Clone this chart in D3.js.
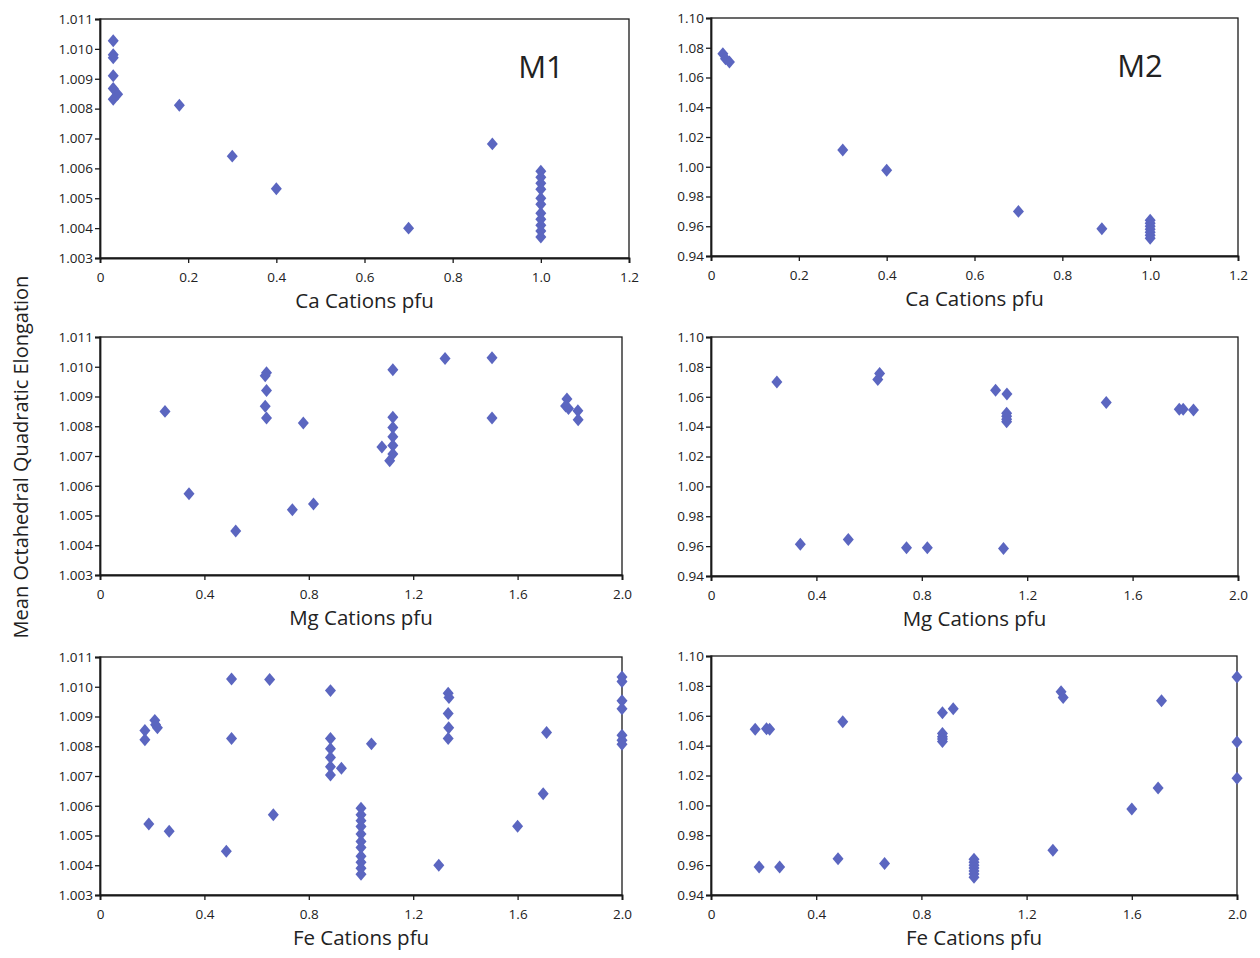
<!DOCTYPE html>
<html>
<head>
<meta charset="utf-8">
<script src="https://cdn.jsdelivr.net/npm/d3@7"></script>
<style>
  body { margin: 0; background: #fff; }
  svg text { font-family: "Open Sans", "Noto Sans", sans-serif; fill: #222; }
</style>
</head>
<body>
<div class="chart-container"></div>
<script>
// x values and elongation values, one pair of arrays per panel
const caM1X = [0.03, 0.03, 0.03, 0.03, 0.03, 0.04, 0.03, 0.18, 0.30, 0.40, 0.70, 0.89,
               1.0, 1.0, 1.0, 1.0, 1.0, 1.0, 1.0, 1.0, 1.0, 1.0, 1.0];
const caM1Y = [1.01027, 1.0098, 1.0097, 1.0091, 1.00867, 1.00848, 1.00831, 1.00811, 1.00641, 1.00532, 1.0040, 1.00682,
               1.0059, 1.0057, 1.0055, 1.0053, 1.0050, 1.0048, 1.0045, 1.0043, 1.0041, 1.0039, 1.0037];

const caM2X = [0.027, 0.033, 0.042, 0.30, 0.40, 0.70, 0.89, 1.0, 1.0, 1.0, 1.0, 1.0, 1.0, 1.0];
const caM2Y = [1.0759, 1.0726, 1.0704, 1.0113, 0.9977, 0.970, 0.9583, 0.964, 0.962, 0.960, 0.958, 0.956, 0.954, 0.952];

const mgM1X = [0.249, 0.341, 0.52, 0.638, 0.633, 0.638, 0.633, 0.638, 0.779, 0.737, 0.818,
               1.122, 1.122, 1.122, 1.122, 1.122, 1.122, 1.08, 1.11, 1.322, 1.502, 1.502,
               1.789, 1.784, 1.795, 1.831, 1.832];
const mgM1Y = [1.0085, 1.00573, 1.00448, 1.0098, 1.0097, 1.0092, 1.00867, 1.00828, 1.00811, 1.00519, 1.00539,
               1.0099, 1.0083, 1.00796, 1.00765, 1.00735, 1.00707, 1.0073, 1.00684, 1.01028, 1.0103, 1.00828,
               1.00892, 1.00868, 1.0086, 1.00852, 1.00822];

const mgM2X = [0.25, 0.339, 0.521, 0.633, 0.64, 0.742, 0.821, 1.08, 1.123, 1.122, 1.122, 1.122, 1.122,
               1.11, 1.50, 1.777, 1.792, 1.831];
const mgM2Y = [1.0698, 0.9613, 0.9644, 1.0716, 1.0756, 0.9589, 0.9589, 1.0644, 1.0618, 1.049, 1.047, 1.045, 1.0433,
               0.9584, 1.0562, 1.0516, 1.0516, 1.0511];

const feM1X = [0.172, 0.172, 0.21, 0.213, 0.22, 0.187, 0.265, 0.484, 0.504, 0.504, 0.65, 0.664,
               0.883, 0.883, 0.883, 0.883, 0.883, 0.883, 0.925, 1.04,
               1.0, 1.0, 1.0, 1.0, 1.0, 1.0, 1.0, 1.0, 1.0, 1.0, 1.0,
               1.298, 1.334, 1.337, 1.334, 1.336, 1.334, 1.60, 1.698, 1.711,
               2.0, 2.0, 2.0, 2.0, 2.0, 2.0, 2.0];
const feM1Y = [1.00853, 1.00822, 1.00887, 1.00872, 1.00862, 1.00539, 1.00514, 1.00447, 1.01026, 1.00826, 1.01024, 1.0057,
               1.00987, 1.00826, 1.00792, 1.00762, 1.00731, 1.00703, 1.00726, 1.00808,
               1.00592, 1.0057, 1.0055, 1.0053, 1.00505, 1.0048, 1.0046, 1.0043, 1.0041, 1.0039, 1.0037,
               1.0040, 1.00978, 1.00964, 1.0091, 1.00862, 1.00826, 1.00531, 1.0064, 1.00846,
               1.01033, 1.01018, 1.00953, 1.00926, 1.00837, 1.0082, 1.00807];

const feM2X = [0.168, 0.211, 0.223, 0.183, 0.261, 0.483, 0.501, 0.66, 0.88, 0.921, 0.88, 0.88, 0.88, 0.88,
               1.0, 1.0, 1.0, 1.0, 1.0, 1.0, 1.0, 1.30, 1.331, 1.339, 1.60, 1.70, 1.713, 2.0, 2.0, 2.0];
const feM2Y = [1.0509, 1.0513, 1.0509, 0.9587, 0.9587, 0.9642, 1.056, 0.9611, 1.062, 1.0647, 1.0482, 1.046, 1.0444, 1.0427,
               0.964, 0.962, 0.960, 0.958, 0.956, 0.954, 0.9518, 0.970, 1.076, 1.0722, 0.9976, 1.0116, 1.070, 1.086, 1.0424, 1.0182];

const caTicks = [0, 0.2, 0.4, 0.6, 0.8, 1.0, 1.2];
const cationTicks = [0, 0.4, 0.8, 1.2, 1.6, 2.0];
const m1Ticks = [1.003, 1.004, 1.005, 1.006, 1.007, 1.008, 1.009, 1.010, 1.011];
const m2Ticks = [0.94, 0.96, 0.98, 1.00, 1.02, 1.04, 1.06, 1.08, 1.10];

const markerColor = "#5b66c0";

const panels = [
  { xs: caM1X, ys: caM1Y, xTicks: caTicks, yTicks: m1Ticks, yDec: 3, title: "Ca Cations pfu", tag: "M1", tagX: 441,
    left: 100, top: 19, width: 529, height: 239 },
  { xs: caM2X, ys: caM2Y, xTicks: caTicks, yTicks: m2Ticks, yDec: 2, title: "Ca Cations pfu", tag: "M2", tagX: 429,
    left: 711, top: 18, width: 527, height: 238 },
  { xs: mgM1X, ys: mgM1Y, xTicks: cationTicks, yTicks: m1Ticks, yDec: 3, title: "Mg Cations pfu",
    left: 100, top: 337, width: 522, height: 238 },
  { xs: mgM2X, ys: mgM2Y, xTicks: cationTicks, yTicks: m2Ticks, yDec: 2, title: "Mg Cations pfu",
    left: 711, top: 337, width: 527, height: 239 },
  { xs: feM1X, ys: feM1Y, xTicks: cationTicks, yTicks: m1Ticks, yDec: 3, title: "Fe Cations pfu",
    left: 100, top: 657, width: 522, height: 238 },
  { xs: feM2X, ys: feM2Y, xTicks: cationTicks, yTicks: m2Ticks, yDec: 2, title: "Fe Cations pfu",
    left: 711, top: 656, width: 526, height: 239 }
];

const svg = d3.select(".chart-container")
              .append("svg")
              .attr("width", 1260)
              .attr("height", 958);

// wide diamond, roughly 11 x 13 px like the spreadsheet marker
const wideDiamond = {
  draw(ctx, size) {
    const w = Math.sqrt(size) / 2, h = w * 1.18;
    ctx.moveTo(0, -h);
    ctx.lineTo(w, 0);
    ctx.lineTo(0, h);
    ctx.lineTo(-w, 0);
    ctx.closePath();
  }
};
const diamond = d3.symbol().type(wideDiamond).size(121);

panels.forEach(p => {
  const x = d3.scaleLinear()
              .domain([p.xTicks[0], p.xTicks[p.xTicks.length - 1]])
              .range([0, p.width]);
  const y = d3.scaleLinear()
              .domain([p.yTicks[0], p.yTicks[p.yTicks.length - 1]])
              .range([p.height, 0]);

  const g = svg.append("g").attr("transform", `translate(${p.left},${p.top})`);

  g.append("rect")
   .attr("width", p.width)
   .attr("height", p.height)
   .attr("fill", "none")
   .attr("stroke", "#1a1a1a")
   .attr("stroke-width", 1.3);

  const xAxis = g.append("g")
                 .attr("transform", `translate(0,${p.height})`)
                 .call(d3.axisBottom(x)
                         .tickValues(p.xTicks)
                         .tickSize(5)
                         .tickFormat(d => d === 0 ? "0" : d3.format(".1f")(d)));
  const yAxis = g.append("g")
                 .call(d3.axisLeft(y)
                         .tickValues(p.yTicks)
                         .tickSize(5)
                         .tickFormat(d3.format(`.${p.yDec}f`)));

  [xAxis, yAxis].forEach(a => {
    a.select(".domain").attr("stroke", "#1a1a1a").attr("stroke-width", 1.8);
    a.selectAll(".tick line").attr("stroke", "#1a1a1a").attr("stroke-width", 1.3);
    a.selectAll(".tick text")
     .style("font-family", "'Open Sans', sans-serif")
     .style("font-size", "13.5px")
     .attr("fill", "#222");
  });
  xAxis.selectAll(".tick text").attr("y", 10).attr("dy", "1em");
  yAxis.selectAll(".tick text").attr("x", -7);

  g.selectAll("path.pt")
   .data(d3.range(p.xs.length))
   .enter()
   .append("path")
   .attr("class", "pt")
   .attr("d", diamond)
   .attr("fill", markerColor)
   .attr("transform", i => `translate(${x(p.xs[i])},${y(p.ys[i])})`);

  g.append("text")
   .attr("x", p.width / 2)
   .attr("y", p.height + 50)
   .attr("text-anchor", "middle")
   .style("font-size", "20.5px")
   .text(p.title);

  if (p.tag) {
    g.append("text")
     .attr("x", p.tagX)
     .attr("y", 59)
     .attr("text-anchor", "middle")
     .style("font-size", "31px")
     .text(p.tag);
  }
});

svg.append("text")
   .attr("transform", "translate(28,457) rotate(-90)")
   .attr("text-anchor", "middle")
   .style("font-size", "20px")
   .text("Mean Octahedral Quadratic Elongation");
</script>
</body>
</html>
